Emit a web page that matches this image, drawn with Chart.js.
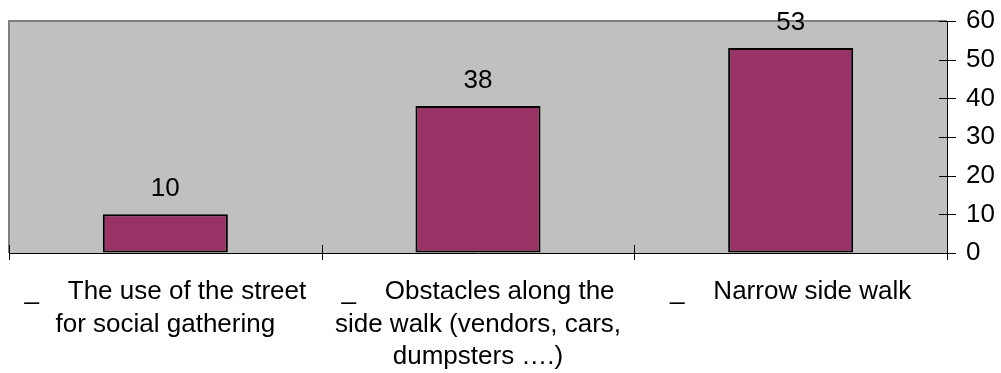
<!DOCTYPE html>
<html>
<head>
<meta charset="utf-8">
<script src="https://cdn.jsdelivr.net/npm/chart.js@4/dist/chart.umd.min.js"></script>
<style>
  html, body { margin: 0; padding: 0; background: #ffffff; }
  canvas { display: block; }
</style>
</head>
<body>
<canvas id="chart" width="1001" height="373"></canvas>
<script>
// Reasons given for walking problems (number of answers)
const categories = [
  ["_    The use of the street", "for social gathering"],
  ["_    Obstacles along the", "side walk (vendors, cars,", "dumpsters ….)"],
  ["_    Narrow side walk"]
];
const counts = [10, 38, 53];
const axisMin = 0;
const axisMax = 60;
const axisStep = 10;

const FONT = "'Liberation Sans', Arial, Helvetica, sans-serif";

// Grey plot background with its top/left frame
const plotBackground = {
  id: 'plotBackground',
  beforeDraw(chart) {
    const { ctx, chartArea: a } = chart;
    ctx.save();
    ctx.fillStyle = '#c0c0c0';
    ctx.fillRect(a.left, a.top, a.right - a.left, a.bottom - a.top);
    ctx.strokeStyle = '#808080';
    ctx.lineWidth = 2;
    ctx.beginPath();
    ctx.moveTo(a.left, a.bottom);
    ctx.lineTo(a.left, a.top);
    ctx.lineTo(a.right, a.top);
    ctx.stroke();
    ctx.restore();
  }
};

// Tick marks that cross both axes, plus the value above each bar
const marksAndLabels = {
  id: 'marksAndLabels',
  afterDraw(chart) {
    const { ctx, chartArea: a } = chart;
    const x = chart.scales.x;
    const y = chart.scales.y;
    ctx.save();
    ctx.strokeStyle = '#000000';
    ctx.lineWidth = 1;
    ctx.beginPath();
    // value axis ticks
    for (let v = axisMin; v <= axisMax; v += axisStep) {
      const py = Math.round(y.getPixelForValue(v)) + 0.5;
      ctx.moveTo(a.right - 8, py);
      ctx.lineTo(a.right + 9, py);
    }
    // category boundary ticks
    for (let i = 0; i <= categories.length; i++) {
      const px = Math.round(x.getPixelForValue(i - 0.5)) + 0.5;
      ctx.moveTo(px, a.bottom - 8);
      ctx.lineTo(px, a.bottom + 7);
    }
    ctx.stroke();

    // data labels
    ctx.fillStyle = '#000000';
    ctx.font = '26px ' + FONT;
    ctx.textAlign = 'center';
    ctx.textBaseline = 'alphabetic';
    const meta = chart.getDatasetMeta(0);
    meta.data.forEach((bar, i) => {
      ctx.fillText(String(counts[i]), bar.x, y.getPixelForValue(counts[i]) - 18);
    });
    ctx.restore();
  }
};

const hiddenTick = 'rgba(0,0,0,0)';

new Chart(document.getElementById('chart'), {
  type: 'bar',
  data: {
    labels: categories,
    datasets: [{
      data: counts,
      backgroundColor: '#993366',
      borderColor: '#000000',
      borderWidth: 2,
      borderSkipped: false,
      categoryPercentage: 1,
      barPercentage: 0.4
    }]
  },
  options: {
    responsive: false,
    animation: false,
    events: [],
    layout: { padding: { left: 9, top: 21, right: 0, bottom: 0 } },
    plugins: {
      legend: { display: false },
      tooltip: { enabled: false },
      title: { display: false }
    },
    scales: {
      x: {
        offset: true,
        grid: { display: true, drawOnChartArea: false, drawTicks: true, tickLength: 23, tickColor: hiddenTick },
        border: { display: true, color: '#000000', width: 1 },
        ticks: {
          color: '#000000',
          font: { family: FONT, size: 26, lineHeight: '32.5px' },
          padding: 0,
          maxRotation: 0,
          minRotation: 0,
          autoSkip: false
        },
        afterFit(scale) { scale.height = 120; }
      },
      y: {
        position: 'right',
        min: axisMin,
        max: axisMax,
        grid: { display: true, drawOnChartArea: false, drawTicks: true, tickLength: 19, tickColor: hiddenTick },
        border: { display: true, color: '#000000', width: 1 },
        ticks: {
          stepSize: axisStep,
          color: '#000000',
          font: { family: FONT, size: 26 },
          padding: 0
        },
        afterFit(scale) { scale.width = 54; }
      }
    }
  },
  plugins: [plotBackground, marksAndLabels]
});
</script>
</body>
</html>
